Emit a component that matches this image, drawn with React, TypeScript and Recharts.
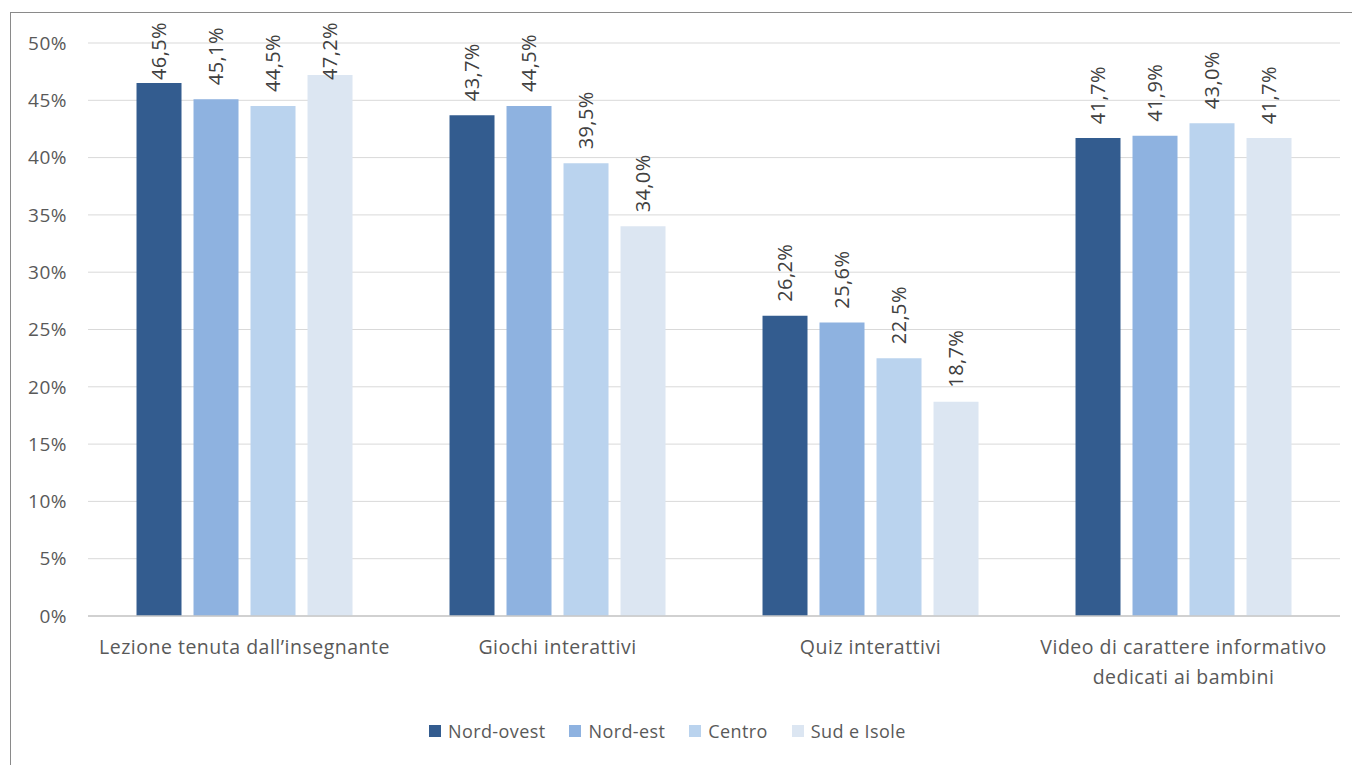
import React from 'react';
import { BarChart, Bar, XAxis, YAxis, CartesianGrid, Legend } from 'recharts';

const categories = [
  'Lezione tenuta dall\u2019insegnante',
  'Giochi interattivi',
  'Quiz interattivi',
  'Video di carattere informativo\ndedicati ai bambini',
];
const nordOvest = [46.5, 43.7, 26.2, 41.7];
const nordEst = [45.1, 44.5, 25.6, 41.9];
const centro = [44.5, 39.5, 22.5, 43.0];
const sudIsole = [47.2, 34.0, 18.7, 41.7];
const yTicks = [0, 5, 10, 15, 20, 25, 30, 35, 40, 45, 50];

const seriesList = [
  { key: 'nordOvest', name: 'Nord-ovest', color: '#335C8F' },
  { key: 'nordEst', name: 'Nord-est', color: '#8EB2E0' },
  { key: 'centro', name: 'Centro', color: '#BAD3EE' },
  { key: 'sudIsole', name: 'Sud e Isole', color: '#DCE6F2' },
];

const data = categories.map((c, i) => ({
  name: c,
  nordOvest: nordOvest[i],
  nordEst: nordEst[i],
  centro: centro[i],
  sudIsole: sudIsole[i],
}));

const FONT = '"Open Sans", "Noto Sans", sans-serif';

const fmt = (v: number) => v.toFixed(1).replace('.', ',') + '%';

const ValueLabel = (props: any) => {
  const { x, y, width, value } = props;
  const fs = 20;
  const text = fmt(value);
  const len = 60;
  let by = y - 14;
  if (by - len < 20) by = 20 + len;
  const cx = x + width / 2 + fs * 0.36;
  return (
    <text
      x={cx}
      y={by}
      transform={`rotate(-90, ${cx}, ${by})`}
      textAnchor="start"
      fontSize={fs}
      fontFamily={FONT}
      fill="#404040"
      letterSpacing={0.4}
    >
      {text}
    </text>
  );
};

const CategoryTick = (props: any) => {
  const { x, y, payload } = props;
  const lines = String(payload.value).split('\n');
  return (
    <g>
      {lines.map((l, i) => (
        <text
          key={i}
          x={x}
          y={y + 30 + i * 30}
          textAnchor="middle"
          fontSize={19.5}
          fontFamily={FONT}
          fill="#595959"
          letterSpacing={0.5}
        >
          {l}
        </text>
      ))}
    </g>
  );
};

// legend sits a bit left of centre in the original
const LegendContent = () => (
  <div
    style={{
      display: 'flex',
      justifyContent: 'flex-start',
      paddingLeft: 429,
      gap: 24,
      fontFamily: FONT,
      fontSize: 18,
      color: '#595959',
      letterSpacing: 0.4,
    }}
  >
    {seriesList.map((s) => (
      <div key={s.key} style={{ display: 'flex', alignItems: 'center' }}>
        <span
          style={{
            display: 'inline-block',
            width: 12,
            height: 12,
            background: s.color,
            marginRight: 7,
          }}
        />
        {s.name}
      </div>
    ))}
  </div>
);

export default function App() {
  return (
    <div
      style={{
        position: 'fixed',
        left: 0,
        top: 0,
        width: 1352,
        height: 765,
        overflow: 'hidden',
        background: '#fff',
      }}
    >
      <div
        style={{
          position: 'absolute',
          left: 10,
          top: 12,
          width: 1400,
          height: 800,
          border: '1px solid #8a8a8a',
        }}
      />
      <div style={{ position: 'absolute', left: 0, top: 0 }}>
        <BarChart
          width={1352}
          height={765}
          data={data}
          margin={{ top: 43, right: 12, left: 0, bottom: 0 }}
          barCategoryGap="15.5%"
          barGap={12}
        >
          <CartesianGrid vertical={false} stroke="#d9d9d9" strokeWidth={1} />
          <XAxis
            dataKey="name"
            height={125}
            tick={<CategoryTick />}
            tickLine={false}
            axisLine={{ stroke: '#c8c8c8', strokeWidth: 1.5 }}
            interval={0}
          />
          <YAxis
            width={88}
            domain={[0, 50]}
            ticks={yTicks}
            tickFormatter={(v: number) => `${v}%`}
            tick={{ fontSize: 19, fill: '#595959', fontFamily: FONT, letterSpacing: 0.5 }}
            axisLine={false}
            tickLine={false}
            tickMargin={15}
          />
          <Legend
            verticalAlign="bottom"
            content={<LegendContent />}
            wrapperStyle={{ top: 719, left: 0, width: 1352 }}
          />
          {seriesList.map((s) => (
            <Bar
              key={s.key}
              dataKey={s.key}
              name={s.name}
              fill={s.color}
              isAnimationActive={false}
              label={<ValueLabel />}
            />
          ))}
        </BarChart>
      </div>
    </div>
  );
}
